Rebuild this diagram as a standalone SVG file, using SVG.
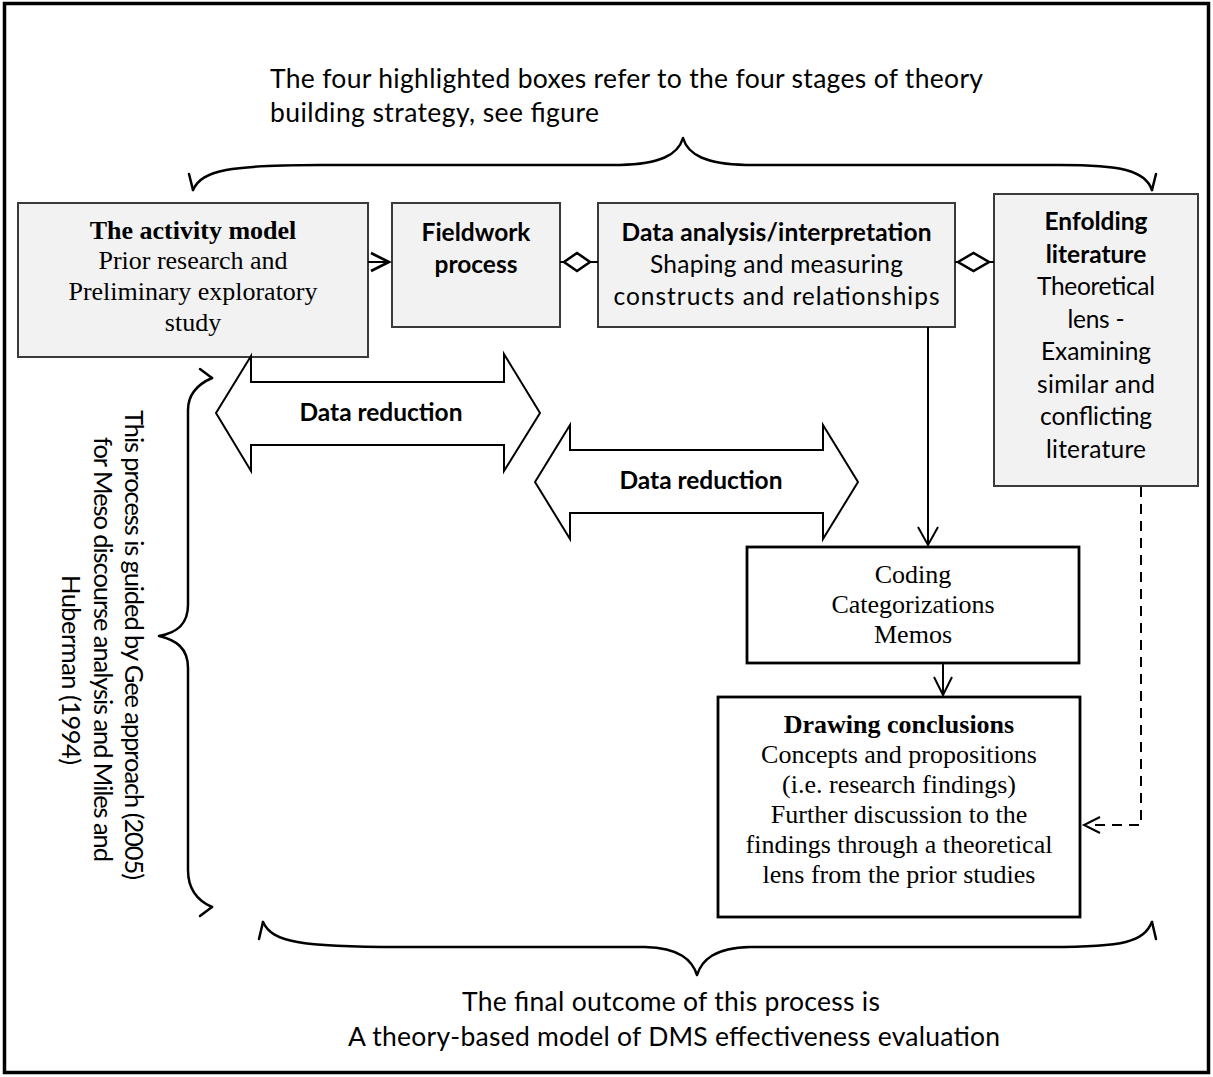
<svg xmlns="http://www.w3.org/2000/svg" width="1213" height="1077" viewBox="0 0 1213 1077">
  <defs>
    <style>
      .frame { fill: #ffffff; stroke: #000000; stroke-width: 3.5; }
      .stage { fill: #f2f2f2; stroke: #3a3a3a; stroke-width: 2; }
      .plain { fill: #ffffff; stroke: #000000; stroke-width: 2.8; }
      .serif { font-family: "Liberation Serif", "Times New Roman", serif; font-size: 26px; fill: #000; text-anchor: middle; }
      .sans { font-family: Lato, "Open Sans", "Liberation Sans", sans-serif; font-size: 24.5px; fill: #000; text-anchor: middle; }
      .note { font-family: Lato, "Open Sans", "Liberation Sans", sans-serif; font-size: 26.5px; fill: #000; }
      .side { font-family: Lato, "Open Sans", "Liberation Sans", sans-serif; font-size: 25.5px; fill: #000; }
      .b { font-weight: bold; }
      .line { fill: none; stroke: #000; stroke-width: 2; }
      .head { fill: none; stroke: #000; stroke-width: 2.6; stroke-linejoin: miter; }
      .dash { fill: none; stroke: #000; stroke-width: 2; stroke-dasharray: 10 7; }
      .brace { fill: none; stroke: #000; stroke-width: 2.5; stroke-linejoin: round; stroke-linecap: round; }
      .bigarrow { fill: #ffffff; stroke: #000; stroke-width: 2; stroke-linejoin: miter; }
    </style>
  </defs>

  <!-- outer frame -->
  <rect class="frame" x="4.5" y="3.5" width="1204" height="1069"/>

  <!-- header note and brace -->
  <g id="header-note">
    <text class="note" x="270" y="88" textLength="713">The four highlighted boxes refer to the four stages of theory</text>
    <text class="note" x="270" y="122" textLength="329">building strategy, see figure</text>
  </g>
  <g id="top-brace">
    <path class="brace" d="M193,190 C202,170 230,165 320,165 L620,165 C660,164 678,155 683,138 C688,155 706,164 746,165 L1060,165 C1120,165 1145,170 1152,190"/>
    <path class="brace" d="M189,174 L193,190"/>
    <path class="brace" d="M1156,174 L1152,190"/>
  </g>

  <!-- stage boxes -->
  <g id="activity-model">
    <rect class="stage" x="18" y="203" width="350" height="154"/>
    <text class="serif b" x="193" y="239">The activity model</text>
    <text class="serif" x="193" y="269">Prior research and</text>
    <text class="serif" x="193" y="300">Preliminary exploratory</text>
    <text class="serif" x="193" y="331">study</text>
  </g>
  <g id="fieldwork">
    <rect class="stage" x="392" y="203" width="168" height="124"/>
    <text class="sans b" x="476" y="241">Fieldwork</text>
    <text class="sans b" x="476" y="273">process</text>
  </g>
  <g id="data-analysis">
    <rect class="stage" x="598" y="203" width="357" height="124"/>
    <text class="sans b" x="776.5" y="241" textLength="310">Data analysis/interpretation</text>
    <text class="sans" x="776.5" y="273" textLength="253">Shaping and measuring</text>
    <text class="sans" x="776.5" y="305" textLength="326">constructs and relationships</text>
  </g>
  <g id="enfolding-literature">
    <rect class="stage" x="994" y="194" width="204" height="292"/>
    <text class="sans b" x="1096" y="230">Enfolding</text>
    <text class="sans b" x="1096" y="263">literature</text>
    <text class="sans" x="1096" y="295" textLength="118">Theoretical</text>
    <text class="sans" x="1096" y="328" textLength="57">lens -</text>
    <text class="sans" x="1096" y="360" textLength="110">Examining</text>
    <text class="sans" x="1096" y="393" textLength="118">similar and</text>
    <text class="sans" x="1096" y="425" textLength="112">conflicting</text>
    <text class="sans" x="1096" y="458" textLength="100">literature</text>
  </g>

  <!-- data reduction double arrows -->
  <g id="data-reduction-1">
    <polygon class="bigarrow" points="216,413 251,356 251,382 504,382 504,354 540,413 504,471 504,445 251,445 251,471"/>
    <text class="sans b" x="381" y="421" textLength="163">Data reduction</text>
  </g>
  <g id="data-reduction-2">
    <polygon class="bigarrow" points="535,482 570,425 570,450 823,450 823,425 858,482 823,539 823,513 570,513 570,539"/>
    <text class="sans b" x="701" y="489" textLength="163">Data reduction</text>
  </g>

  <!-- coding and conclusions -->
  <g id="coding">
    <rect class="plain" x="747" y="547" width="332" height="116"/>
    <text class="serif" x="913" y="583">Coding</text>
    <text class="serif" x="913" y="613">Categorizations</text>
    <text class="serif" x="913" y="643">Memos</text>
  </g>
  <g id="drawing-conclusions">
    <rect class="plain" x="718" y="697" width="362" height="220"/>
    <text class="serif b" x="899" y="733">Drawing conclusions</text>
    <text class="serif" x="899" y="763">Concepts and propositions</text>
    <text class="serif" x="899" y="793">(i.e. research findings)</text>
    <text class="serif" x="899" y="823">Further discussion to the</text>
    <text class="serif" x="899" y="853">findings through a theoretical</text>
    <text class="serif" x="899" y="883">lens from the prior studies</text>
  </g>

  <!-- connectors -->
  <g id="connectors">
    <!-- activity model to fieldwork -->
    <line class="line" x1="368" y1="262" x2="389" y2="262"/>
    <polyline class="head" points="371,253 389,262 371,271"/>
    <!-- fieldwork to data analysis (two-way) -->
    <line class="line" x1="560" y1="262" x2="564" y2="262"/>
    <polygon class="head" points="564,262 577,253 590,262 577,271"/>
    <line class="line" x1="590" y1="262" x2="598" y2="262"/>
    <!-- data analysis to enfolding literature (two-way) -->
    <line class="line" x1="955" y1="262" x2="958" y2="262"/>
    <polygon class="head" points="958,262 973.5,253 989,262 973.5,271"/>
    <line class="line" x1="989" y1="262" x2="994" y2="262"/>
    <!-- data analysis down to coding -->
    <line class="line" x1="928" y1="327" x2="928" y2="545"/>
    <polyline class="line" points="918,527 928,545 938,527"/>
    <!-- coding to conclusions -->
    <line class="line" x1="943" y1="663" x2="943" y2="695"/>
    <polyline class="line" points="934,677 943,695 952,677"/>
    <!-- literature back to conclusions (dashed) -->
    <path class="dash" d="M1141,487 L1141,825 L1088,825"/>
    <polyline class="line" points="1100,817 1084,825 1100,833"/>
  </g>

  <!-- side note and brace -->
  <g id="side-brace">
    <path class="brace" d="M212,378 C196,385 188,395 188,410 L188,605 C188,625 176,633 159,636 C176,640 188,648 188,668 L188,870 C188,888 196,900 212,907"/>
    <path class="brace" d="M200,369 L212,378"/>
    <path class="brace" d="M212,907 L200,916"/>
  </g>
  <g id="side-note">
    <text class="side" transform="translate(125,410) rotate(90)" x="0" y="0" textLength="470">This process is guided by Gee approach (2005)</text>
    <text class="side" transform="translate(94,437) rotate(90)" x="0" y="0" textLength="425">for Meso discourse analysis and Miles and</text>
    <text class="side" transform="translate(62,575) rotate(90)" x="0" y="0" textLength="190">Huberman (1994)</text>
  </g>

  <!-- footer brace and note -->
  <g id="bottom-brace">
    <path class="brace" d="M263,922 C272,942 300,947 400,947 L645,947 C680,948 692,960 697,975 C702,960 714,948 750,947 L1050,947 C1125,947 1143,942 1152,922"/>
    <path class="brace" d="M259,939 L263,922"/>
    <path class="brace" d="M1156,939 L1152,922"/>
  </g>
  <g id="footer-note">
    <text class="note" x="462" y="1011" textLength="418">The final outcome of this process is</text>
    <text class="note" x="348" y="1046" textLength="652">A theory-based model of DMS effectiveness evaluation</text>
  </g>
</svg>
